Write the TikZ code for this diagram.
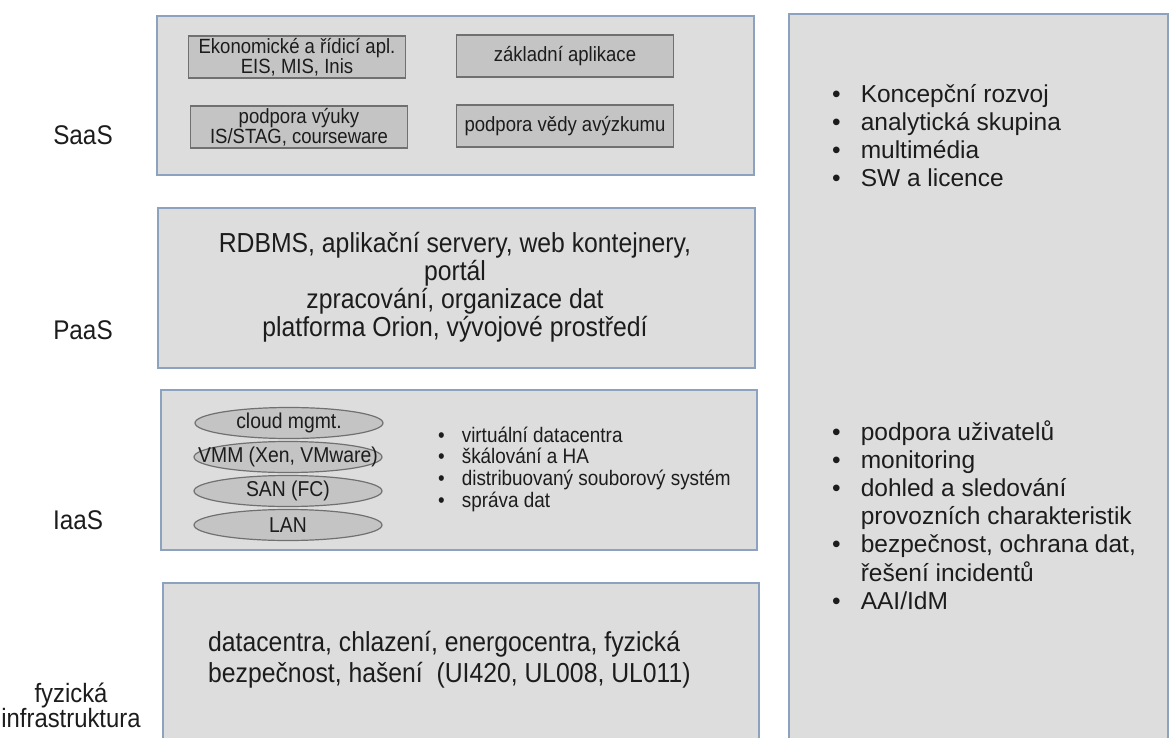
\documentclass[tikz,border=0pt]{standalone}
\usepackage{fontspec}
\setmainfont{Liberation Sans}
\newfontfamily\narrowsf{Liberation Sans}[FakeStretch=0.9]
\usetikzlibrary{shapes.geometric}
\definecolor{panelfill}{RGB}{221,221,221}
\definecolor{paneledge}{RGB}{140,162,190}
\definecolor{appfill}{RGB}{196,196,196}
\definecolor{appedge}{RGB}{112,112,112}
\definecolor{txt}{RGB}{28,28,28}
\begin{document}
\begin{tikzpicture}[x=1pt,y=-1pt,
  panel/.style={draw=paneledge,fill=panelfill,line width=1.6pt,inner sep=0pt,anchor=north west},
  app/.style={draw=appedge,fill=appfill,line width=1.2pt,minimum width=217pt,minimum height=42pt,
    inner sep=0pt,align=center,text=txt,font=\narrowsf\fontsize{20.6}{20.5}\selectfont},
  layer/.style={ellipse,draw=appedge,fill=appfill,line width=1.2pt,minimum width=188pt,
    minimum height=31pt,inner sep=0pt,text=txt,font=\narrowsf\fontsize{21.5}{21}\selectfont},
  lbl/.style={text=txt,align=center,font=\narrowsf\fontsize{27}{26}\selectfont},
  body/.style={text=txt,inner sep=0pt,font=\fontsize{25}{28}\selectfont}]
\useasboundingbox (0,0) rectangle (1171,737);
% panels
\node[panel,minimum width=379pt,minimum height=740pt] (ops) at (788,13) {};
\node[panel,minimum width=597pt,minimum height=159pt] (saas) at (156,15) {};
\node[panel,minimum width=597pt,minimum height=160pt] (paas) at (157,207) {};
\node[panel,minimum width=596pt,minimum height=160pt] (iaas) at (160,389) {};
\node[panel,minimum width=596pt,minimum height=170pt] (fyz) at (162,582) {};
% layer names
\node[lbl] (saaslbl) at (83,135) {SaaS};
\node[lbl] (paaslbl) at (83,330) {PaaS};
\node[lbl] (iaaslbl) at (78,520) {IaaS};
\node[lbl,font=\narrowsf\fontsize{26.5}{25}\selectfont] (fyzlbl) at (71,705) {fyzická\\infrastruktura};
% SaaS
\node[app] (ekon) at (297,57) {Ekonomické a řídicí apl.\\EIS, MIS, Inis};
\node[app] (zakl) at (565,56) {základní aplikace};
\node[app] (vyuka) at (299,127) {podpora výuky\\IS/STAG, courseware};
\node[app] (veda) at (565,126) {podpora vědy avýzkumu};
% PaaS
\node[body,align=center,font=\narrowsf\fontsize{27.5}{28}\selectfont] (platf) at (455,287) {RDBMS, aplikační servery, web kontejnery,\\portál\\zpracování, organizace dat\\platforma Orion, vývojové prostředí};
% IaaS
\node[layer] (cloud) at (289,423) {\makebox[0pt]{cloud mgmt.}};
\node[layer] (vmm) at (288,457) {\makebox[0pt]{VMM (Xen, VMware)}};
\node[layer] (san) at (288,491) {\makebox[0pt]{SAN (FC)}};
\node[layer] (lan) at (288,525) {\makebox[0pt]{LAN}};
\node[body,anchor=base west,font=\narrowsf\fontsize{21}{20.7}\selectfont] (virt) at (438,442) {\begin{tabular}[t]{@{}l@{\hspace{17pt}}l@{}}
• & virtuální datacentra\\
• & škálování a HA\\
• & distribuovaný souborový systém\\
• & správa dat
\end{tabular}};
% fyzicka infrastruktura
\node[body,anchor=base west,font=\narrowsf\fontsize{27.5}{31}\selectfont] (dc) at (208,651) {\begin{tabular}[t]{@{}l@{}}
datacentra, chlazení, energocentra, fyzická\\
bezpečnost, hašení~ (UI420, UL008, UL011)
\end{tabular}};
% sluzby
\node[body,anchor=base west,font=\fontsize{24.5}{28}\selectfont] (rozvoj) at (832,102) {\begin{tabular}[t]{@{}l@{\hspace{20pt}}l@{}}
• & Koncepční rozvoj\\
• & analytická skupina\\
• & multimédia\\
• & SW a licence
\end{tabular}};
\node[body,anchor=base west,font=\fontsize{24.5}{28.2}\selectfont] (provoz) at (832,440) {\begin{tabular}[t]{@{}l@{\hspace{20pt}}l@{}}
• & podpora uživatelů\\
• & monitoring\\
• & dohled a sledování\\
  & provozních charakteristik\\
• & bezpečnost, ochrana dat,\\
  & řešení incidentů\\
• & AAI/IdM
\end{tabular}};
\end{tikzpicture}
\end{document}
